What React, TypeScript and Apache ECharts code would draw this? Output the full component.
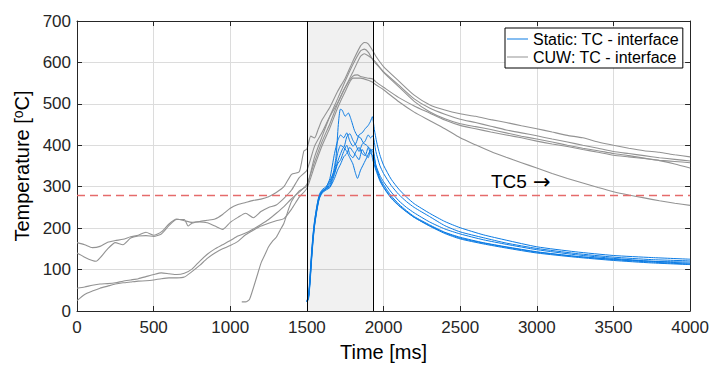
import React, { useEffect, useRef } from 'react';
import * as echarts from 'echarts';

// ---------- data ----------
const staticName = 'Static: TC - interface';
const cuwName = 'CUW: TC - interface';

const weldStart = 1500;
const weldEnd = 1930;
const thresholdTemp = 280;

const static1 = [[1500,22],[1510,35],[1520,85],[1530,140],[1540,185],[1550,218],[1565,252],[1580,278],[1600,290],[1625,296],[1650,310],[1670,330],[1690,372],[1705,450],[1718,487],[1730,485],[1750,470],[1770,478],[1790,460],[1810,436],[1830,422],[1850,418],[1870,405],[1890,400],[1910,392],[1930,385],[1950,352],[1975,328],[2000,312],[2050,287],[2100,266],[2150,250],[2200,237],[2300,215],[2400,198],[2500,186],[2650,172],[2800,161],[3000,148],[3250,136],[3500,127],[3750,120],[4000,115]];
const static2 = [[1500,24],[1510,30],[1520,70],[1530,125],[1540,172],[1550,208],[1565,245],[1580,272],[1600,288],[1625,298],[1650,320],[1680,380],[1700,410],[1720,425],[1740,418],[1760,430],[1780,410],[1800,398],[1820,405],[1840,425],[1860,430],[1880,440],[1900,448],[1915,458],[1927,469],[1940,438],[1955,408],[1975,378],[2000,352],[2050,318],[2100,294],[2150,275],[2200,259],[2300,236],[2400,216],[2500,201],[2650,184],[2800,171],[3000,155],[3250,143],[3500,134],[3750,129],[4000,125]];
const static3 = [[1500,23],[1512,40],[1522,90],[1532,145],[1542,190],[1552,222],[1567,258],[1582,282],[1600,293],[1625,300],[1650,315],[1680,340],[1700,380],[1720,400],[1740,395],[1760,420],[1780,428],[1800,412],[1820,400],[1840,385],[1860,402],[1880,410],[1900,425],[1915,418],[1930,423],[1950,385],[1975,352],[2000,332],[2050,303],[2100,281],[2150,264],[2200,250],[2300,228],[2400,206],[2500,191],[2650,177],[2800,164],[3000,151],[3250,139],[3500,130],[3750,124],[4000,121]];
const static4 = [[1500,22],[1510,32],[1520,75],[1530,130],[1540,178],[1550,212],[1565,248],[1580,275],[1600,287],[1625,294],[1650,305],[1680,335],[1700,360],[1720,380],[1740,395],[1760,385],[1780,370],[1800,355],[1815,335],[1830,320],[1850,340],[1870,355],[1890,370],[1910,385],[1930,390],[1950,350],[1975,322],[2000,305],[2050,278],[2100,258],[2150,242],[2200,228],[2300,208],[2400,190],[2500,178],[2650,165],[2800,155],[3000,143],[3250,132],[3500,124],[3750,118],[4000,113]];
const static5 = [[1500,25],[1512,38],[1522,82],[1532,138],[1542,182],[1552,215],[1567,250],[1582,276],[1600,289],[1625,295],[1650,300],[1680,330],[1700,355],[1720,365],[1740,385],[1760,400],[1780,378],[1800,370],[1820,385],[1840,395],[1860,380],[1880,375],[1900,395],[1915,380],[1930,375],[1950,345],[1975,318],[2000,300],[2050,274],[2100,255],[2150,240],[2200,226],[2300,205],[2400,187],[2500,174],[2650,162],[2800,152],[3000,140],[3250,130],[3500,122],[3750,116],[4000,112]];
const static6 = [[1500,22],[1510,28],[1520,65],[1530,120],[1540,168],[1550,205],[1565,242],[1580,270],[1600,285],[1625,292],[1650,298],[1680,320],[1700,340],[1720,355],[1740,372],[1760,380],[1780,395],[1800,385],[1820,375],[1840,365],[1860,390],[1880,378],[1900,370],[1915,390],[1930,365],[1950,340],[1975,315],[2000,298],[2050,272],[2100,254],[2150,239],[2200,226],[2300,206],[2400,189],[2500,176],[2650,164],[2800,154],[3000,142],[3250,132],[3500,125],[3750,120],[4000,118]];

const cuw1 = [[0,165],[50,160],[100,153],[150,156],[200,166],[250,170],[300,173],[350,179],[400,183],[450,190],[500,183],[550,191],[600,210],[650,222],[700,218],[750,214],[800,216],[850,219],[900,222],[950,233],[1000,248],[1050,257],[1100,262],[1150,267],[1200,270],[1250,276],[1300,286],[1350,300],[1400,330],[1450,336],[1480,386],[1500,391],[1525,422],[1550,418],[1575,440],[1600,462],[1650,492],[1700,530],[1750,562],[1800,603],[1850,640],[1875,648],[1900,645],[1930,628],[1950,615],[2000,590],[2100,555],[2200,521],[2300,498],[2400,485],[2500,476],[2600,470],[2700,462],[2800,455],[2900,447],[3000,440],[3100,432],[3200,424],[3300,418],[3400,408],[3500,400],[3600,393],[3700,387],[3800,383],[3900,377],[4000,372]];
const cuw2 = [[0,140],[50,130],[100,122],[125,120],[150,128],[200,150],[250,165],[300,160],[350,176],[400,181],[450,182],[500,180],[550,186],[600,206],[650,221],[700,221],[725,205],[750,212],[800,215],[850,213],[900,205],[950,197],[1000,214],[1050,226],[1100,236],[1150,225],[1200,240],[1250,250],[1300,256],[1350,272],[1400,292],[1450,322],[1500,340],[1550,398],[1600,432],[1650,470],[1700,502],[1750,540],[1800,577],[1850,615],[1875,621],[1900,616],[1930,608],[1950,600],[2000,576],[2100,541],[2200,506],[2300,481],[2400,464],[2500,452],[2600,445],[2700,438],[2800,430],[2900,422],[3000,415],[3100,408],[3200,400],[3300,393],[3400,387],[3500,380],[3600,375],[3700,369],[3800,363],[3900,355],[4000,345]];
const cuw3 = [[0,55],[50,58],[100,62],[150,65],[200,66],[250,68],[300,72],[350,75],[400,78],[450,83],[500,88],[550,92],[600,90],[650,88],[700,91],[750,101],[800,120],[850,137],[900,150],[950,160],[1000,170],[1050,181],[1100,188],[1150,198],[1200,209],[1250,221],[1300,236],[1350,252],[1400,271],[1450,287],[1500,306],[1550,360],[1600,410],[1650,452],[1700,500],[1750,540],[1800,567],[1830,570],[1850,566],[1900,562],[1930,560],[1950,553],[2000,540],[2100,515],[2200,495],[2300,478],[2400,461],[2500,448],[2600,440],[2700,432],[2800,425],[2900,418],[3000,410],[3100,403],[3200,397],[3300,390],[3400,383],[3500,376],[3600,372],[3700,368],[3800,364],[3900,361],[4000,358]];
const cuw4 = [[0,25],[50,40],[100,48],[150,55],[200,60],[250,65],[300,68],[350,70],[400,72],[450,73],[500,75],[550,78],[600,80],[650,80],[700,82],[750,95],[800,110],[850,127],[900,140],[950,150],[1000,158],[1050,168],[1100,184],[1150,195],[1200,205],[1250,212],[1300,218],[1350,223],[1400,246],[1450,275],[1500,296],[1550,350],[1600,400],[1650,442],[1700,490],[1750,530],[1800,562],[1850,562],[1900,557],[1930,552],[1950,546],[2000,534],[2100,505],[2200,480],[2300,460],[2400,440],[2500,418],[2600,401],[2700,385],[2800,371],[2900,358],[3000,345],[3100,332],[3200,320],[3300,309],[3400,298],[3500,288],[3600,280],[3700,273],[3800,266],[3900,260],[4000,255]];
const cuw5 = [[1075,22],[1100,22],[1125,28],[1150,55],[1175,85],[1200,115],[1225,135],[1250,155],[1275,168],[1300,178],[1325,195],[1350,212],[1375,240],[1400,265],[1450,290],[1500,302],[1550,372],[1600,422],[1650,470],[1700,512],[1750,555],[1800,595],[1850,628],[1875,632],[1900,625],[1930,606],[1950,597],[2000,578],[2100,545],[2200,512],[2300,490],[2400,475],[2500,463],[2600,455],[2700,446],[2800,437],[2900,430],[3000,423],[3100,415],[3200,408],[3300,400],[3400,393],[3500,385],[3600,380],[3700,375],[3800,370],[3900,366],[4000,362]];

const staticCurves = [static1, static2, static3, static4, static5, static6];
const cuwCurves = [cuw1, cuw2, cuw3, cuw4, cuw5];

const BLUE = '#0b7be3';
const GREY = '#939393';
const AXIS = '#262626';
const FONT = "'Liberation Sans', Arial, Helvetica, sans-serif";

export default function App() {
  const ref = useRef<HTMLDivElement>(null);
  useEffect(() => {
    const chart = echarts.init(ref.current as HTMLDivElement, null, { renderer: 'svg' });
    const series: any[] = [];
    series.push({
      type: 'line',
      name: '__marks',
      data: [],
      silent: true,
      markArea: {
        silent: true,
        itemStyle: { color: 'rgba(0,0,0,0.055)' },
        data: [[{ xAxis: weldStart }, { xAxis: weldEnd }]],
      },
    });
    staticCurves.forEach((d) =>
      series.push({
        type: 'line', name: staticName, data: d, symbol: 'none', showSymbol: false,
        smooth: 0.2, lineStyle: { color: BLUE, width: 1 }, itemStyle: { color: BLUE }, silent: true,
      })
    );
    cuwCurves.forEach((d) =>
      series.push({
        type: 'line', name: cuwName, data: d, symbol: 'none', showSymbol: false,
        smooth: 0.2, lineStyle: { color: GREY, width: 1.1 }, itemStyle: { color: GREY }, silent: true,
      })
    );
    series.push({
      type: 'line',
      name: '__lines',
      data: [],
      silent: true,
      markLine: {
        silent: true,
        symbol: ['none', 'none'],
        label: { show: false },
        data: [
          { yAxis: thresholdTemp, lineStyle: { color: '#e56b6b', type: [8, 5], width: 1.3 } },
          { xAxis: weldStart, lineStyle: { color: '#000', type: 'solid', width: 1 } },
          { xAxis: weldEnd, lineStyle: { color: '#000', type: 'solid', width: 1 } },
        ],
      },
    });

    const baseX = {
      type: 'value', min: 0, max: 4000, interval: 500,
      axisLine: { show: true, onZero: false, lineStyle: { color: AXIS, width: 1 } },
      axisTick: { show: true, inside: true, length: 5, lineStyle: { color: AXIS } },
    };
    const baseY = {
      type: 'value', min: 0, max: 700, interval: 100,
      axisLine: { show: true, onZero: false, lineStyle: { color: AXIS, width: 1 } },
      axisTick: { show: true, inside: true, length: 5, lineStyle: { color: AXIS } },
    };
    const plain = (v: number) => String(v);

    chart.setOption({
      animation: false,
      grid: { left: 77, right: 21, top: 21, bottom: 53, containLabel: false },
      legend: {
        data: [{ name: staticName }, { name: cuwName }],
        orient: 'vertical',
        left: 505,
        top: 28,
        itemWidth: 21,
        itemHeight: 1,
        icon: 'rect',
        itemGap: 2,
        padding: [3, 4, 3, 2],
        backgroundColor: '#fff',
        borderColor: '#000',
        borderWidth: 1,
        textStyle: { fontSize: 16, color: '#000', fontFamily: FONT },
        selectedMode: false,
      },
      xAxis: [
        {
          ...baseX, position: 'bottom',
          name: 'Time [ms]', nameLocation: 'middle', nameGap: 31,
          nameTextStyle: { fontSize: 20, color: '#000', fontFamily: FONT },
          axisLabel: { fontSize: 17, color: AXIS, margin: 8, fontFamily: FONT, formatter: plain },
          splitLine: { show: true, lineStyle: { color: '#dcdcdc', width: 1 } },
        },
        {
          ...baseX, position: 'top',
          axisLabel: { show: false }, splitLine: { show: false },
        },
      ],
      yAxis: [
        {
          ...baseY, position: 'left',
          name: 'Temperature [{s|o}C]', nameLocation: 'middle', nameGap: 42,
          nameTextStyle: {
            fontSize: 20, color: '#000', fontFamily: FONT,
            rich: { s: { fontSize: 14, color: '#000', fontFamily: FONT, verticalAlign: 'top', padding: [0, 0, 7, 0] } },
          },
          axisLabel: { fontSize: 17, color: AXIS, margin: 6, fontFamily: FONT, formatter: plain },
          splitLine: { show: true, lineStyle: { color: '#dcdcdc', width: 1 } },
        },
        {
          ...baseY, position: 'right',
          axisLabel: { show: false }, splitLine: { show: false },
        },
      ],
      graphic: [
        {
          type: 'text', x: 491, y: 181, z: 100, silent: true,
          style: { text: 'TC5', fontSize: 19, fontFamily: FONT, fill: '#000', verticalAlign: 'middle' },
        },
        {
          type: 'text', x: 533, y: 182, z: 100, silent: true,
          style: { text: '\u2192', fontSize: 21, fontFamily: "'DejaVu Sans', sans-serif", fill: '#000', verticalAlign: 'middle' },
        },
      ],
      series,
    });
    return () => chart.dispose();
  }, []);
  return <div ref={ref} style={{ position: 'absolute', left: 0, top: 0, width: 712, height: 367 }} />;
}
